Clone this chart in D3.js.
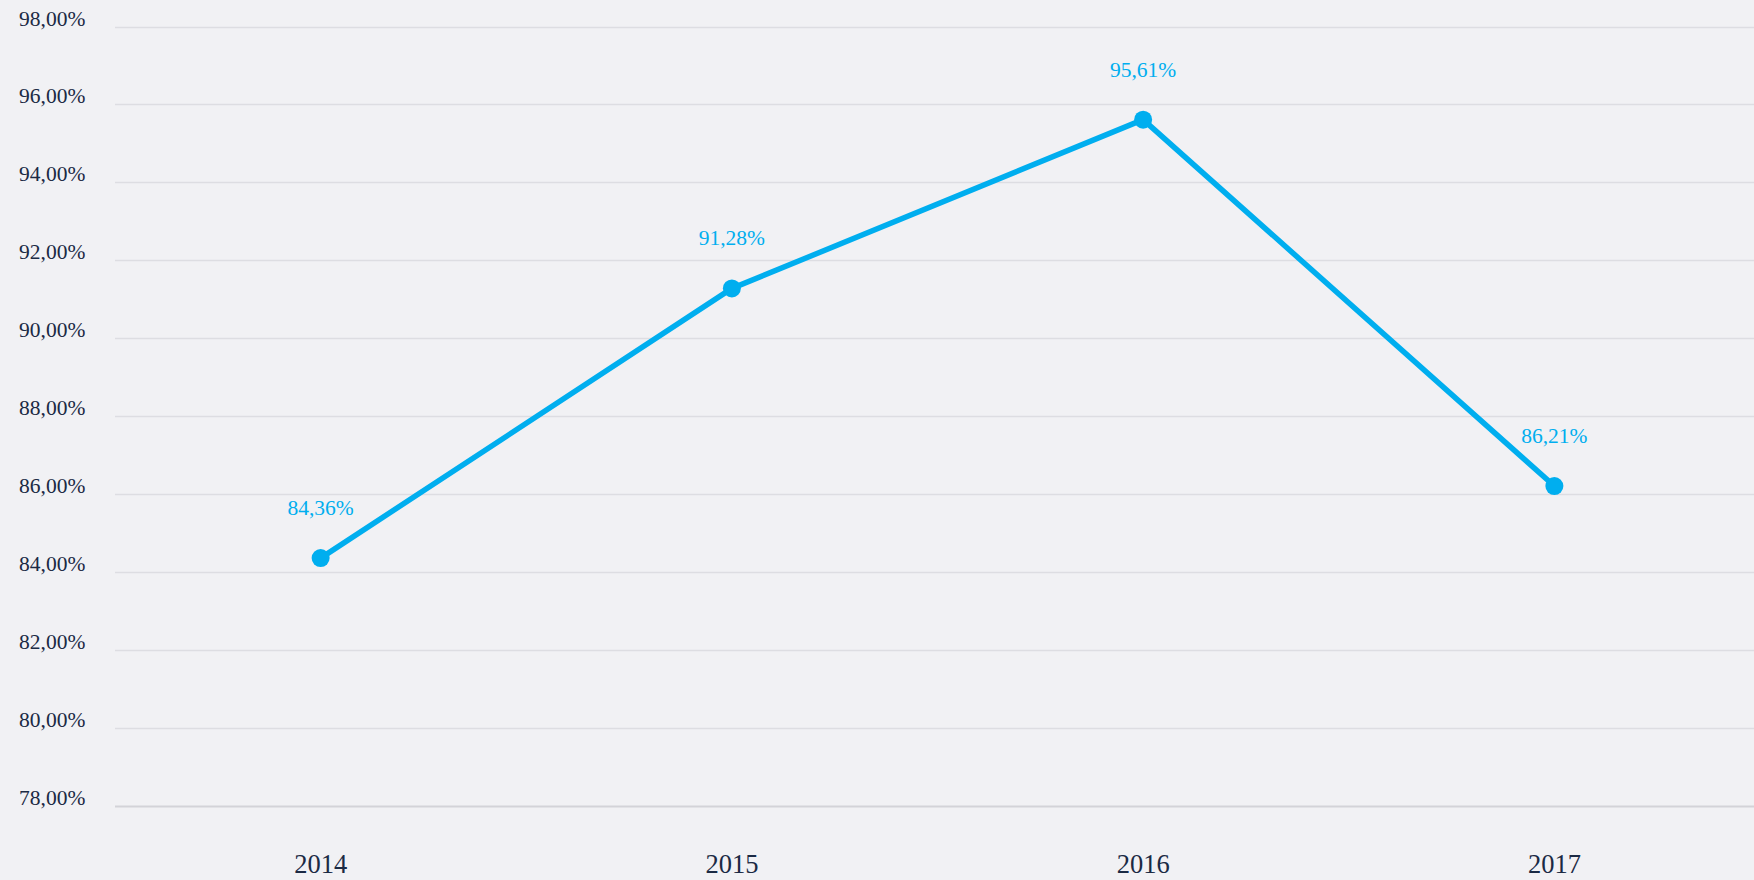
<!DOCTYPE html>
<html>
<head>
<meta charset="utf-8">
<script src="https://cdn.jsdelivr.net/npm/d3@7"></script>
<style>
  html, body { margin: 0; padding: 0; background: #f1f1f4; }
  svg { display: block; }
</style>
</head>
<body>
<div id="chart"></div>
<script>
const years = ["2014", "2015", "2016", "2017"];
const rates = [84.36, 91.28, 95.61, 86.21];
const yTicks = [78, 80, 82, 84, 86, 88, 90, 92, 94, 96, 98];

const width = 1754;
const height = 880;
const fontFamily = "'Palatino Linotype', 'Book Antiqua', Palatino, 'Liberation Serif', serif";
const lineColor = "#00aeef";
const textColor = "#1b2a44";

const svg = d3.select("#chart").append("svg")
  .attr("width", width)
  .attr("height", height)
  .style("background", "#f1f1f4");

const x = d3.scalePoint()
  .domain(years)
  .range([115, 1760])
  .padding(0.5);

const y = d3.scaleLinear()
  .domain([78, 98])
  .range([806, 26.5]);

const fmt = v => v.toFixed(2).replace(".", ",") + "%";

// gridlines
svg.append("g")
  .selectAll("line")
  .data(yTicks)
  .join("line")
  .attr("x1", 115)
  .attr("x2", width)
  .attr("y1", d => Math.round(y(d)) + 0.5)
  .attr("y2", d => Math.round(y(d)) + 0.5)
  .attr("stroke", d => d === 78 ? "#d3d3d8" : "#dddde2")
  .attr("stroke-width", d => d === 78 ? 2 : 1.5);

// y labels
svg.append("g")
  .selectAll("text")
  .data(yTicks)
  .join("text")
  .attr("x", 19)
  .attr("y", d => y(d) - 1)
  .attr("fill", textColor)
  .style("font", `21.5px ${fontFamily}`)
  .text(d => fmt(d));

// x labels
svg.append("g")
  .selectAll("text")
  .data(years)
  .join("text")
  .attr("x", d => x(d))
  .attr("y", 873)
  .attr("text-anchor", "middle")
  .attr("fill", textColor)
  .style("font", `26.5px ${fontFamily}`)
  .text(d => d);

const points = years.map((yr, i) => ({ year: yr, value: rates[i] }));

const line = d3.line()
  .x(d => x(d.year))
  .y(d => y(d.value));

svg.append("path")
  .datum(points)
  .attr("d", line)
  .attr("fill", "none")
  .attr("stroke", lineColor)
  .attr("stroke-width", 5.5)
  .attr("stroke-linejoin", "round");

svg.append("g")
  .selectAll("circle")
  .data(points)
  .join("circle")
  .attr("cx", d => x(d.year))
  .attr("cy", d => y(d.value))
  .attr("r", 9)
  .attr("fill", lineColor);

svg.append("g")
  .selectAll("text")
  .data(points)
  .join("text")
  .attr("x", d => x(d.year))
  .attr("y", d => y(d.value) - 43)
  .attr("text-anchor", "middle")
  .attr("fill", lineColor)
  .style("font", `21.5px ${fontFamily}`)
  .text(d => fmt(d.value));
</script>
</body>
</html>
